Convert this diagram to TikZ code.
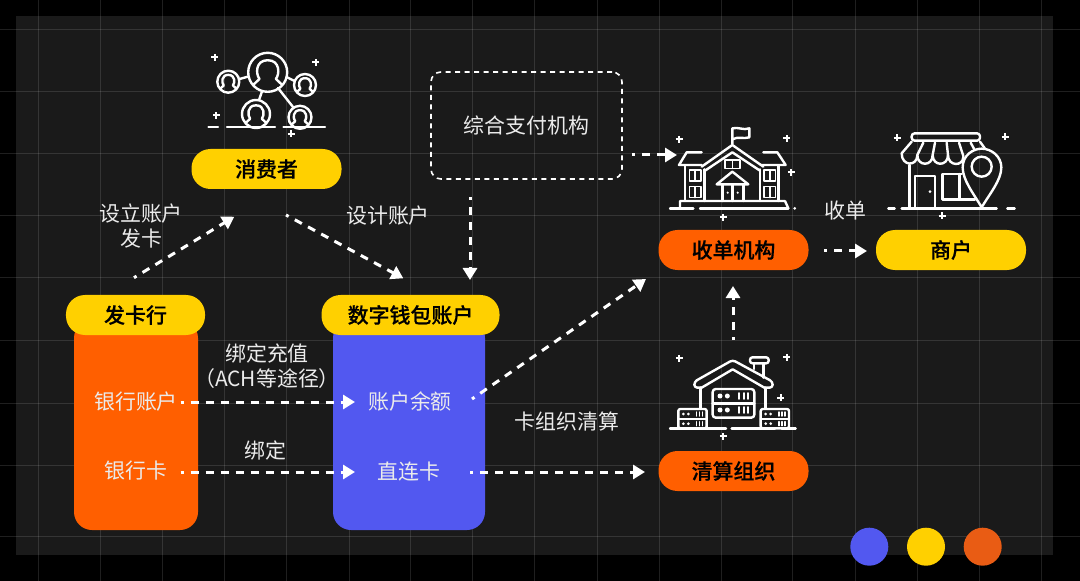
\documentclass[tikz,border=0pt]{standalone}
\usepackage{fontspec}
\setmainfont{Noto Sans CJK SC}
\newfontfamily\medcjk[FakeBold=0.5]{Noto Sans CJK SC Medium}
\usetikzlibrary{arrows.meta}
\definecolor{panelc}{HTML}{1A1A1A}
\definecolor{yel}{HTML}{FFD000}
\definecolor{org}{HTML}{FF5F00}
\definecolor{blu}{HTML}{5258F0}
\definecolor{org2}{HTML}{E95C14}
\tikzset{
 pill/.style={rounded corners=19bp,minimum height=40bp,inner sep=0pt,font=\fontsize{21}{21}\selectfont\medcjk,text=black},
 label/.style={inner sep=0pt,text=white!92!black,font=\fontsize{21}{25}\selectfont,align=center},
 flow/.style={draw=white,line width=3bp,dash pattern=on 3bp off 7bp on 8bp off 7bp on 8bp off 7bp on 8bp off 7bp on 8bp off 7bp on 8bp off 7bp on 8bp off 7bp on 8bp off 7bp on 8bp off 7bp on 8bp off 7bp on 8bp off 7bp on 8bp off 7bp on 8bp off 7bp on 8bp off 7bp on 8bp off 7bp on 8bp off 7bp on 80bp off 7bp,-{Triangle[width=14bp,length=12bp]}},
 ic/.style={draw=white,line width=2.4bp,line cap=round,line join=round},
 icthin/.style={draw=white,line width=1.5bp,line cap=round,line join=round},
}
\newcommand{\plusmark}[2]{\draw[white,line width=2bp] (#1-3.5,#2)--(#1+3.5,#2) (#1,#2-3.5)--(#1,#2+3.5);}
\newcommand{\personicon}[3]{%
 \draw[ic] (#1,#2) circle (#3);
 \begin{scope}\clip (#1,#2) circle (#3);
 \draw[ic] (#1-.42*#3,#2+.34*#3) .. controls (#1-.62*#3,#2+.1*#3) and (#1-.64*#3,#2-.62*#3) .. (#1,#2-.62*#3)
   .. controls (#1+.64*#3,#2-.62*#3) and (#1+.62*#3,#2+.1*#3) .. (#1+.42*#3,#2+.34*#3) -- (#1+.8*#3,#2+.7*#3)
   (#1-.42*#3,#2+.34*#3) -- (#1-.8*#3,#2+.7*#3);
 \end{scope}}
\begin{document}
\begin{tikzpicture}[x=1bp,y=-1bp]
\useasboundingbox (0,0) rectangle (1080,581);
\fill[black] (0,0) rectangle (1080,581);
\fill[panelc] (16,16) rectangle (1053,555);
\foreach \gx in {38,100.3,162.6,224.6,286.6,349,410.6,472.5,534.6,597,659,721,792,855,917,979,1041}
  \draw[white,opacity=.12,line width=1bp] (\gx,0)--(\gx,581);
\foreach \gy in {30,92,154,216,278,340,403,465,536}
  \draw[white,opacity=.12,line width=1bp] (0,\gy)--(1080,\gy);

% columns
\fill[org,rounded corners=18bp] (74,320) rectangle (198,530);
\fill[blu,rounded corners=18bp] (333,320) rectangle (485,530);

% pills
\node[pill,fill=yel,minimum width=150bp] (consumer) at (266.5,169) {消费者};
\node[pill,fill=yel,minimum width=139bp] (issuer) at (135.5,315) {发卡行};
\node[pill,fill=yel,minimum width=178bp] (wallet) at (410.5,315) {数字钱包账户};
\node[pill,fill=org,minimum width=150bp] (acquirer) at (733.5,250) {收单机构};
\node[pill,fill=yel,minimum width=150bp] (merchant) at (951,250) {商户};
\node[pill,fill=org,minimum width=150bp] (clearing) at (733.5,471) {清算组织};

% dashed box
\node[draw=white,line width=1.6bp,dash pattern=on 5bp off 4.5bp,rounded corners=10bp,minimum width=191bp,minimum height=107bp,inner sep=0pt,label,text=white!92!black] (aggregator) at (526.5,125.5) {综合支付机构};

% labels
\node[label] (t1) at (141,226) {设立账户\\发卡};
\node[label] (t2) at (388,216) {设计账户};
\node[label] (t3) at (267,366) {绑定充值\\（ACH等途径）};
\node[label] (t4) at (265,451) {绑定};
\node[label] (t5) at (567,422) {卡组织清算};
\node[label] (t6) at (845,211) {收单};
\node[label] (bankacct) at (136,402) {银行账户};
\node[label] (bankcard) at (136,471) {银行卡};
\node[label] (balance) at (410,402) {账户余额};
\node[label] (direct) at (409,472) {直连卡};

% free ends
\coordinate (a1s) at (134,277.7); \coordinate (a1e) at (234.3,216.7);
\coordinate (a2s) at (286,215); \coordinate (a2e) at (403.3,278.3);
\coordinate (a3s) at (470,197); \coordinate (a3e) at (470,280);
\coordinate (a4s) at (632,155); \coordinate (a4e) at (677,155);
\coordinate (a5s) at (180.7,402); \coordinate (a5e) at (355,402);
\coordinate (a6s) at (180.7,472); \coordinate (a6e) at (355,472);
\coordinate (a7s) at (472,399); \coordinate (a7e) at (646,279);
\coordinate (a8s) at (470,472); \coordinate (a8e) at (645,472);
\coordinate (a9s) at (733,340); \coordinate (a9e) at (733,286);
\coordinate (a10s) at (824,251); \coordinate (a10e) at (867,251);
\foreach \k in {1,...,10} \draw[flow] (a\k s)--(a\k e);

% consumer icon
\personicon{267.7}{72.3}{19.5}
\personicon{228.3}{81.7}{11}
\personicon{305}{85}{11}
\personicon{256}{114}{14}
\personicon{300}{117.3}{11.5}
\draw[ic] (239.5,79)--(248.5,76.5) (286.5,77)--(294.5,81) (262,91.5)--(259,100) (278,88)--(293,107);
\draw[ic] (227,127.3)--(275,127.3) (283.5,127.3)--(325,127.3) (208.5,127.3)--(218,127.3);
\plusmark{214.7}{57.3}\plusmark{315.7}{62.3}\plusmark{216.3}{115.3}\plusmark{291}{133.7}

% school icon
\begin{scope}[shift={(660,120)},scale=1/3]
\draw[ic] (217,72)--(217,25) .. controls (235,20) and (250,32) .. (268,25) -- (268,52) .. controls (250,58) and (235,48) .. (217,58);
\draw[ic] (125,140)--(217,75)--(310,140) (135,152)--(217,97)--(300,152);
\draw[ic] (125,97)--(80,97)--(57,135)--(125,135) (310,97)--(352,97)--(377,135)--(305,135);
\draw[ic] (75,137)--(75,243) (133,148)--(133,243) (300,148)--(300,243) (355,137)--(355,243);
\draw[ic] (60,243)--(375,243) (60,243)--(60,265) (375,243)--(385,265);
\draw[ic] (30,265)--(100,265) (120,265)--(385,265);
\fill[white] (404,265) circle (4.5);
\foreach \wx/\wy in {88/150,88/200,312/150,312/200}{
 \draw[icthin] (\wx,\wy) rectangle (\wx+35,\wy+33) (\wx+17.5,\wy)--(\wx+17.5,\wy+33);}
\draw[icthin] (195,120) rectangle (240,145) (217.5,120)--(217.5,145);
\draw[ic] (170,193)--(217,155)--(265,193)--cycle;
\draw[ic] (187,193)--(187,243) (250,193)--(250,243) (218,193)--(218,243);
\fill[white] (203,218) circle (3.5) (233,218) circle (3.5);
\end{scope}
\plusmark{679}{139.3}\plusmark{786.7}{138.3}\plusmark{791.3}{172.3}\plusmark{723.3}{217.3}

% store icon
\begin{scope}[shift={(880,120)},scale=1/3]
\draw[ic,rounded corners=3bp] (95,62)--(95,40)--(300,40)--(300,62)--cycle;
\draw[ic] (95,65)--(65,100) .. controls (65,140) and (112,140) .. (112,105) .. controls (112,140) and (158,140) .. (158,105) .. controls (158,140) and (204,140) .. (204,105) .. controls (204,140) and (250,140) .. (250,110);
\draw[ic] (130,68)--(112,105) (165,68)--(158,105) (200,68)--(204,105) (237,68)--(250,108) (272,68)--(284,90) (300,65)--(315,86);
\draw[ic] (88,135)--(88,265) (65,265)--(350,265) (25,265)--(44,265) (382,265)--(404,265);
\draw[ic] (105,265)--(105,168)--(165,168)--(165,265);
\fill[white] (150,215) circle (4.5);
\draw[ic] (245,162)--(187,162)--(187,238)--(285,238) (238,162)--(238,238);
\draw[ic] (305,262) .. controls (280,220) and (248,180) .. (248,142) .. controls (248,105) and (280,86) .. (305,86) .. controls (335,86) and (364,110) .. (364,142) .. controls (364,180) and (330,220) .. (305,262) -- cycle;
\draw[ic] (305,140) circle (30);
\end{scope}
\plusmark{897.3}{137.7}\plusmark{1005.3}{136.7}\plusmark{942}{216}

% clearing icon
\begin{scope}[shift={(660,345)},scale=1/3]
\draw[ic,rounded corners=3bp] (125,128)--(103,128)--(103,110)--(218,45)--(338,110)--(338,128)--(313,128);
\draw[ic] (125,128)--(218,73)--(313,128);
\draw[ic] (122,128)--(122,190) (316,128)--(316,190);
\draw[ic,rounded corners=2.5bp] (270,37) rectangle (326,55);
\draw[ic] (282,55)--(282,72) (310,55)--(310,98);
\draw[ic,rounded corners=3bp] (158,132) rectangle (283,218);
\draw[ic] (158,175)--(283,175);
\foreach \sy in {153,195}{
 \fill[white] (180,\sy) circle (7.5) (202,\sy) circle (7.5);
 \draw[icthin,line width=1.8bp] (237,\sy-9)--(237,\sy+9) (251,\sy-9)--(251,\sy+9) (265,\sy-9)--(265,\sy+9);}
\foreach \rx in {55,302}{
 \draw[ic,rounded corners=2bp] (\rx,192) rectangle (\rx+85,250);
 \draw[ic] (\rx,222)--(\rx+85,222);
 \foreach \sy in {207,236}{
 \fill[white] (\rx+15,\sy) circle (4.5) (\rx+30,\sy) circle (4.5);
 \draw[icthin] (\rx+55,\sy-6)--(\rx+55,\sy+6) (\rx+64,\sy-6)--(\rx+64,\sy+6) (\rx+73,\sy-6)--(\rx+73,\sy+6);}
}
\draw[ic] (30,251)--(198,251) (215,251)--(345,251) (365,251)--(407,251);
\end{scope}
\plusmark{679.3}{358.3}\plusmark{786.7}{357.3}\plusmark{780.7}{397.7}\plusmark{723.3}{436.3}

% dots
\fill[blu] (869.3,546.7) circle (19);
\fill[yel] (926,546.7) circle (19);
\fill[org2] (982.7,546.7) circle (19);
\end{tikzpicture}
\end{document}
